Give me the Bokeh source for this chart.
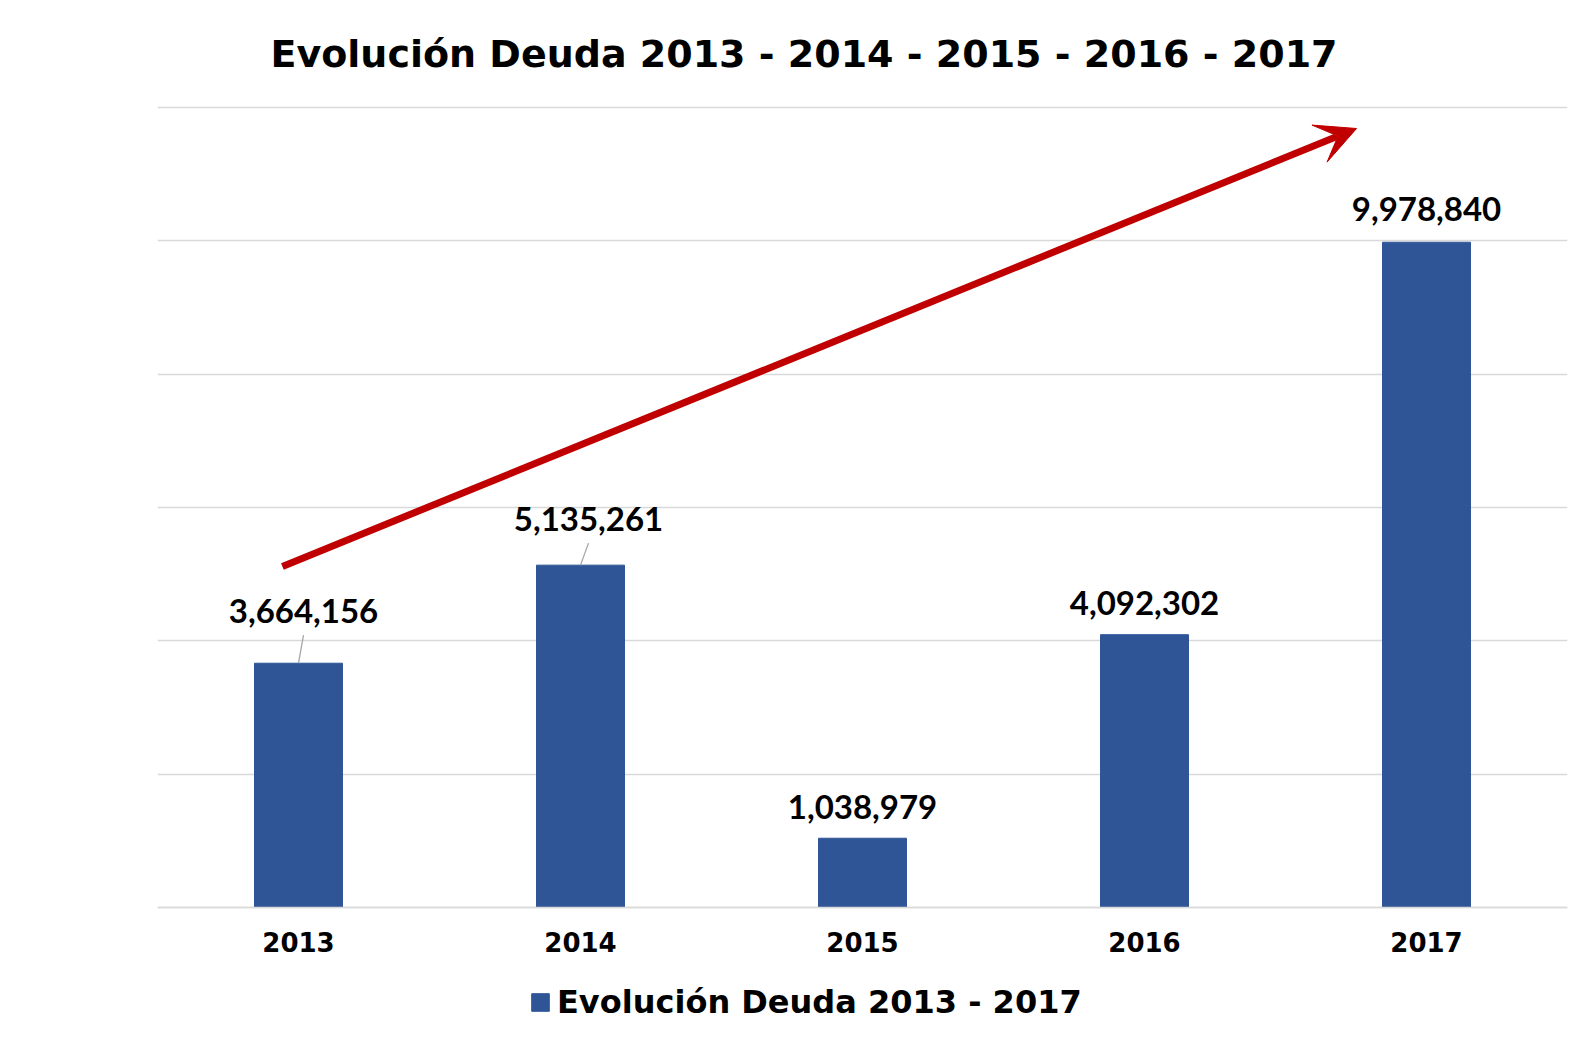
from bokeh.plotting import figure
from bokeh.models import ColumnDataSource, Arrow, VeeHead, Legend, LegendItem, FixedTicker
from bokeh.embed import file_html
from bokeh.resources import INLINE
from bokeh.core.properties import value

# ---- data ----
years = ["2013", "2014", "2015", "2016", "2017"]
debt = [3664156, 5135261, 1038979, 4092302, 9978840]
series_name = "Evolución Deuda 2013 - 2017"
chart_title = "Evolución Deuda 2013 - 2014 - 2015 - 2016 - 2017"
grid_ticks = [0, 2000000, 4000000, 6000000, 8000000, 10000000, 12000000]

# ---- layout / style ----
Y_MAX = 12000000
FRAME_W, PLOT_H = 1410, 800          # plotting area for 0..Y_MAX
TOP_PAD, BOTTOM_PAD = 2, 133         # extra frame pixels above / below
CAT_PX = FRAME_W / len(years)
U = Y_MAX / PLOT_H                   # data units per pixel
BAR_COLOR = "#2F5597"
ARROW_COLOR = "#C00000"
GRID_COLOR = "#D9D9D9"

# label placement (pixels above bar top / to the right of bar centre)
lab_dx = [5, 8, 0, 0, 0]
lab_dy = [52, 46, 31, 32, 33]
has_leader = [True, True, False, False, False]

labels = ["{:,}".format(v) for v in debt]
src = ColumnDataSource(dict(x=years, top=debt, label=labels,
                            xo=lab_dx, yo=[-d for d in lab_dy]))

p = figure(x_range=years, y_range=(-BOTTOM_PAD * U, Y_MAX + TOP_PAD * U),
           frame_width=FRAME_W, frame_height=PLOT_H + TOP_PAD + BOTTOM_PAD,
           min_border_left=157, min_border_right=11,
           min_border_top=105, min_border_bottom=0,
           output_backend="svg", toolbar_location=None,
           background_fill_color="white", border_fill_color="white")
p.outline_line_color = None

# title
p.title.text = chart_title
p.title.text_font = "DejaVu Sans"
p.title.text_font_style = "bold"
p.title.text_font_size = "38px"
p.title.text_color = "black"
p.title.align = "left"
p.title.offset = 113
p.title.standoff = 59

# grid
p.xgrid.visible = False
p.ygrid.ticker = FixedTicker(ticks=grid_ticks)
p.ygrid.grid_line_color = GRID_COLOR
p.ygrid.grid_line_width = 1.5
p.yaxis.visible = False

# x axis drawn at y = 0
xa = p.xaxis[0]
xa.fixed_location = 0
xa.axis_line_color = GRID_COLOR
xa.axis_line_width = 1.5
xa.major_tick_line_color = None
xa.minor_tick_line_color = None
xa.major_tick_out = 0
xa.major_label_standoff = 24
xa.major_label_text_font = "DejaVu Sans"
xa.major_label_text_font_style = "bold"
xa.major_label_text_font_size = "26px"
xa.major_label_text_color = "black"

bars = p.vbar(x="x", top="top", width=0.312, source=src,
              fill_color=BAR_COLOR, line_color=BAR_COLOR)

# leader lines
lx0, ly0, lx1, ly1 = [], [], [], []
for i, v in enumerate(debt):
    if has_leader[i]:
        lx0.append(i + 0.5)
        ly0.append(v)
        lx1.append(i + 0.5 + lab_dx[i] / CAT_PX)
        ly1.append(v + (lab_dy[i] - 24) * U)
p.segment(x0=lx0, y0=ly0, x1=lx1, y1=ly1, line_color="#A6A6A6", line_width=1.3)

# data labels
p.text(x="x", y="top", text="label", source=src, x_offset="xo", y_offset="yo",
       text_align="center", text_baseline="middle",
       text_font=value("Lato"), text_font_style="bold", text_font_size="33px",
       text_color="black")

# trend arrow
p.add_layout(Arrow(end=VeeHead(size=40, fill_color=ARROW_COLOR, line_color=ARROW_COLOR),
                   x_start=0.443, y_start=5115000, x_end=4.252, y_end=11685000,
                   line_color=ARROW_COLOR, line_width=7))

# legend (bottom strip of the frame, below the axis labels)
legend = Legend(items=[LegendItem(label=series_name, renderers=[bars])],
                location=(372, 19), orientation="horizontal",
                glyph_width=22, glyph_height=22, label_standoff=6,
                label_text_font="DejaVu Sans", label_text_font_style="bold",
                label_text_font_size="32px", label_text_color="black",
                padding=0, margin=0, border_line_color=None,
                background_fill_alpha=0)
p.add_layout(legend, "center")

open("out.html", "w").write(file_html(p, INLINE))
